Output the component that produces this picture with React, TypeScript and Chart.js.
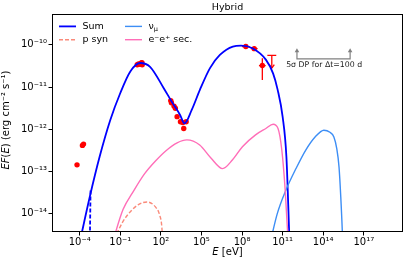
import { useEffect, useRef } from 'react';
import { Chart, registerables } from 'chart.js';
Chart.register(...registerables);

const FONT = "'DejaVu Sans', Verdana, sans-serif";

// axis ticks (powers of ten)
const xTickExps = [-4, -1, 2, 5, 8, 11, 14, 17];
const yTickExps = [-14, -13, -12, -11, -10];
const xRange = [-6.05, 19.9];
const yRange = [-14.43, -9.27];

// Sum (log10 E [eV], log10 EF)
const sumLogE = [-3.95, -3.26, -2.53, -1.74, -1.0, -0.26, 0.47, 1.2, 2.2, 2.81, 3.42, 3.74, 4.28, 4.89, 5.63, 6.36, 7.32, 7.93, 8.77, 9.76, 10.3, 10.63, 11.0, 11.28, 11.48, 11.55];
const sumLogF = [-14.6, -13.6, -12.65, -11.78, -11.14, -10.63, -10.43, -10.52, -11.02, -11.35, -11.66, -11.86, -11.54, -11.06, -10.55, -10.24, -10.04, -10.02, -10.08, -10.35, -10.68, -11.06, -11.7, -12.65, -14.39, -15.0];

// short dashed blue component
const dashLogE = [-3.2, -3.25];
const dashLogF = [-13.45, -14.6];

// p syn
const psynLogE = [-1.45, -0.8, -0.14, 0.4, 0.97, 1.58, 1.9, 2.07, 2.12];
const psynLogF = [-14.6, -14.18, -13.91, -13.77, -13.72, -13.83, -14.02, -14.31, -14.6];

// nu_mu
const numuLogE = [10.0, 10.6, 11.24, 12.0, 12.71, 13.4, 14.05, 14.5, 14.79, 15.0, 15.17, 15.3, 15.41, 15.45];
const numuLogF = [-14.8, -14.0, -13.44, -12.92, -12.49, -12.18, -12.02, -12.07, -12.18, -12.45, -12.89, -13.6, -14.39, -14.8];

// e- e+ secondaries
const secLogE = [-1.6, -0.8, 0.0, 0.8, 1.6, 2.4, 3.2, 3.92, 4.87, 5.7, 6.56, 7.3, 8.03, 9.0, 9.76, 10.3, 10.66, 10.94, 11.19, 11.36, 11.42];
const secLogF = [-14.7, -13.9, -13.45, -13.05, -12.75, -12.5, -12.32, -12.25, -12.37, -12.68, -12.93, -12.72, -12.41, -12.13, -11.98, -11.88, -11.98, -12.49, -13.44, -14.39, -14.8];

// observed points (no error bars shown)
const obsLogE = [-4.2, -3.8, -3.72, 0.25, 0.35, 0.45, 0.5, 0.55, 0.6, 0.62, 2.73, 2.78, 2.97, 3.07, 3.2, 3.45, 3.62, 3.87, 3.69];
const obsLogF = [-12.84, -12.38, -12.35, -10.47, -10.45, -10.46, -10.45, -10.43, -10.42, -10.47, -11.32, -11.37, -11.45, -11.5, -11.7, -11.82, -11.84, -11.82, -11.98];

// gamma-ray points with error bars
const gamLogE = [8.28, 8.9, 9.5];
const gamLogF = [-10.04, -10.09, -10.49];
const gamXErr = [0.29, 0.25, 0.25];
const gamYLo = [-10.09, -10.14, -10.83];
const gamYHi = [-9.99, -10.04, -10.32];

// upper limit
const ulLogE = [10.2];
const ulLogF = [-10.25];
const ulXErr = [0.33];
const ulDrop = [0.3];

// sensitivity annotation
const annLogE = [12.06, 15.99];
const annLogF = [-10.33, -10.08];
const annText = '5σ DP for Δt=100 d';
const annTextPos = [14.07, -10.47];

// axis titles: [text, italic?] pieces
const xTitleParts: [string, boolean][] = [['E', true], [' [eV]', false]];
const yTitleParts: [string, boolean][] = [['EF', true], ['(', false], ['E', true], [') (erg cm⁻² s⁻¹)', false]];

const SUP: Record<string, string> = { '0': '⁰', '1': '¹', '2': '²', '3': '³', '4': '⁴', '5': '⁵', '6': '⁶', '7': '⁷', '8': '⁸', '9': '⁹', '-': '⁻' };
const sup = (n: number) => String(n).split('').map((c) => SUP[c] ?? c).join('');

const pts = (le: number[], lf: number[]) => le.map((e, i) => ({ x: 10 ** e, y: 10 ** lf[i] }));

const C_SUM = '#0000ff';
const C_NU = '#3d8ef5';
const C_PSYN = '#fa8a7a';
const C_SEC = '#ff6eb8';
const C_RED = '#ff0000';

const drawParts = (ctx: CanvasRenderingContext2D, parts: [string, boolean][], size: number) => {
  const fontOf = (it: boolean) => `${it ? 'italic ' : ''}${size}px ${FONT}`;
  let total = 0;
  parts.forEach(([t, it]) => { ctx.font = fontOf(it); total += ctx.measureText(t).width; });
  let cx = -total / 2;
  ctx.textAlign = 'left';
  ctx.textBaseline = 'middle';
  parts.forEach(([t, it]) => {
    ctx.font = fontOf(it);
    ctx.fillText(t, cx, 0);
    cx += ctx.measureText(t).width;
  });
};

const extras = {
  id: 'extras',
  beforeDatasetsDraw(chart: any) {
    const { ctx, scales } = chart;
    const x = scales.x, y = scales.y;
    const X = (le: number) => x.getPixelForValue(10 ** le);
    const Y = (lf: number) => y.getPixelForValue(10 ** lf);
    ctx.save();
    ctx.strokeStyle = C_RED;
    ctx.lineWidth = 1.3;
    gamLogE.forEach((le, i) => {
      const py = Y(gamLogF[i]);
      const px = X(le);
      ctx.beginPath();
      ctx.moveTo(X(le - gamXErr[i]), py);
      ctx.lineTo(X(le + gamXErr[i]), py);
      ctx.moveTo(px, Y(gamYLo[i]));
      ctx.lineTo(px, Y(gamYHi[i]));
      ctx.stroke();
    });
    ulLogE.forEach((le, i) => {
      const py = Y(ulLogF[i]);
      const px = X(le);
      const pb = Y(ulLogF[i] - ulDrop[i]);
      ctx.beginPath();
      ctx.moveTo(X(le - ulXErr[i]), py);
      ctx.lineTo(X(le + ulXErr[i]), py);
      ctx.moveTo(px, py);
      ctx.lineTo(px, pb);
      ctx.stroke();
      ctx.beginPath();
      ctx.moveTo(px - 2.5, pb - 3.5);
      ctx.lineTo(px, pb);
      ctx.lineTo(px + 2.5, pb - 3.5);
      ctx.stroke();
    });
    ctx.restore();
  },
  afterDraw(chart: any) {
    const { ctx, chartArea: a, scales } = chart;
    const x = scales.x, y = scales.y;
    const X = (le: number) => x.getPixelForValue(10 ** le);
    const Y = (lf: number) => y.getPixelForValue(10 ** lf);
    ctx.save();
    // frame
    ctx.strokeStyle = '#000';
    ctx.lineWidth = 1;
    ctx.strokeRect(Math.round(a.left) + 0.5, Math.round(a.top) + 0.5, Math.round(a.right - a.left) - 1, Math.round(a.bottom - a.top) - 1);
    // title
    ctx.fillStyle = '#000';
    ctx.font = `9.5px ${FONT}`;
    ctx.textAlign = 'center';
    ctx.textBaseline = 'middle';
    ctx.fillText('Hybrid', (a.left + a.right) / 2, 7.5);
    // axis titles
    ctx.save();
    ctx.translate((a.left + a.right) / 2, 252.5);
    drawParts(ctx, xTitleParts, 10);
    ctx.restore();
    ctx.save();
    ctx.translate(6.5, 120);
    ctx.rotate(-Math.PI / 2);
    drawParts(ctx, yTitleParts, 10);
    ctx.restore();
    // annotation
    ctx.strokeStyle = '#808080';
    ctx.fillStyle = '#808080';
    ctx.lineWidth = 1.2;
    const ax0 = X(annLogE[0]), ax1 = X(annLogE[1]);
    const ayb = Y(annLogF[0]), ayt = Y(annLogF[1]);
    ctx.beginPath();
    ctx.moveTo(ax0, ayt + 3);
    ctx.lineTo(ax0, ayb);
    ctx.lineTo(ax1, ayb);
    ctx.lineTo(ax1, ayt + 3);
    ctx.stroke();
    [ax0, ax1].forEach((ax) => {
      ctx.beginPath();
      ctx.moveTo(ax, ayt);
      ctx.lineTo(ax - 2.3, ayt + 4);
      ctx.lineTo(ax + 2.3, ayt + 4);
      ctx.closePath();
      ctx.fill();
    });
    ctx.fillStyle = '#222';
    ctx.font = `7.8px ${FONT}`;
    ctx.textAlign = 'center';
    ctx.textBaseline = 'middle';
    ctx.fillText(annText, X(annTextPos[0]), Y(annTextPos[1]));
    // legend
    const rows = [
      { col: 0, row: 0, color: C_SUM, dash: [], w: 1.8, label: 'Sum' },
      { col: 0, row: 1, color: C_PSYN, dash: [4, 2], w: 1.4, label: 'p syn' },
      { col: 1, row: 0, color: C_NU, dash: [], w: 1.4, label: 'ν', sub: 'μ' },
      { col: 1, row: 1, color: C_SEC, dash: [], w: 1.4, label: 'e⁻e⁺ sec.' },
    ];
    ctx.textAlign = 'left';
    ctx.textBaseline = 'middle';
    rows.forEach((r: any) => {
      const lx = a.left + (r.col === 0 ? 7 : 73);
      const ly = a.top + (r.row === 0 ? 12.4 : 25.7);
      ctx.strokeStyle = r.color;
      ctx.lineWidth = r.w;
      ctx.setLineDash(r.dash);
      ctx.beginPath();
      ctx.moveTo(lx, ly);
      ctx.lineTo(lx + 17, ly);
      ctx.stroke();
      ctx.setLineDash([]);
      ctx.fillStyle = '#000';
      ctx.font = `9.5px ${FONT}`;
      ctx.fillText(r.label, lx + 23.5, ly);
      if (r.sub) {
        const w = ctx.measureText(r.label).width;
        ctx.font = `6.5px ${FONT}`;
        ctx.fillText(r.sub, lx + 23.5 + w, ly + 2.5);
      }
    });
    ctx.restore();
  },
};

const lineDs = (label: string, le: number[], lf: number[], color: string, width: number, dash: number[] = []) => ({
  type: 'line' as const,
  label,
  data: pts(le, lf),
  borderColor: color,
  backgroundColor: color,
  borderWidth: width,
  borderDash: dash,
  pointRadius: 0,
  cubicInterpolationMode: 'monotone' as const,
  fill: false,
});

export default function App() {
  const ref = useRef<HTMLCanvasElement>(null);
  useEffect(() => {
    if (!ref.current) return;
    const chart = new Chart(ref.current, {
      type: 'line',
      data: {
        datasets: [
          lineDs('e⁻e⁺ sec.', secLogE, secLogF, C_SEC, 1.4),
          lineDs('νμ', numuLogE, numuLogF, C_NU, 1.4),
          lineDs('p syn', psynLogE, psynLogF, C_PSYN, 1.4, [4, 2]),
          lineDs('Sum', sumLogE, sumLogF, C_SUM, 1.8),
          lineDs('Sum (dashed)', dashLogE, dashLogF, C_SUM, 1.8, [4, 2]),
          {
            type: 'scatter' as const,
            label: 'data',
            data: [...pts(obsLogE, obsLogF), ...pts(gamLogE, gamLogF)],
            showLine: false,
            pointRadius: 2.7,
            pointBorderWidth: 0,
            pointBackgroundColor: C_RED,
            pointBorderColor: C_RED,
          },
        ] as any,
      },
      options: {
        responsive: false,
        animation: false,
        devicePixelRatio: 1,
        events: [],
        parsing: false as any,
        layout: { padding: { left: 0, top: 14, right: 3, bottom: 0 } },
        plugins: { legend: { display: false }, tooltip: { enabled: false }, title: { display: false } },
        scales: {
          x: {
            type: 'logarithmic',
            min: 10 ** xRange[0],
            max: 10 ** xRange[1],
            afterBuildTicks: (s: any) => { s.ticks = xTickExps.map((e) => ({ value: 10 ** e })); },
            afterFit: (s: any) => { s.height = 31; },
            ticks: {
              autoSkip: false,
              maxRotation: 0,
              padding: 1,
              color: '#000',
              font: { family: FONT, size: 10 },
              callback: (v: any) => '10' + sup(Math.round(Math.log10(Number(v)))),
            },
            grid: { display: true, drawOnChartArea: false, drawTicks: true, tickLength: 3.5, color: '#000', lineWidth: 1 },
            border: { display: false },
            title: { display: false },
          },
          y: {
            type: 'logarithmic',
            min: 10 ** yRange[0],
            max: 10 ** yRange[1],
            afterBuildTicks: (s: any) => { s.ticks = yTickExps.map((e) => ({ value: 10 ** e })); },
            afterFit: (s: any) => { s.width = 52; },
            ticks: {
              autoSkip: false,
              padding: 1.5,
              color: '#000',
              font: { family: FONT, size: 10 },
              callback: (v: any) => '10' + sup(Math.round(Math.log10(Number(v)))),
            },
            grid: { display: true, drawOnChartArea: false, drawTicks: true, tickLength: 3.5, color: '#000', lineWidth: 1 },
            border: { display: false },
            title: { display: false },
          },
        },
      } as any,
      plugins: [extras],
    });
    return () => chart.destroy();
  }, []);
  return (
    <div style={{ position: 'fixed', left: 0, top: 0, width: 407, height: 263, background: '#fff' }}>
      <canvas ref={ref} width={407} height={263} style={{ width: 407, height: 263, display: 'block' }} />
    </div>
  );
}
